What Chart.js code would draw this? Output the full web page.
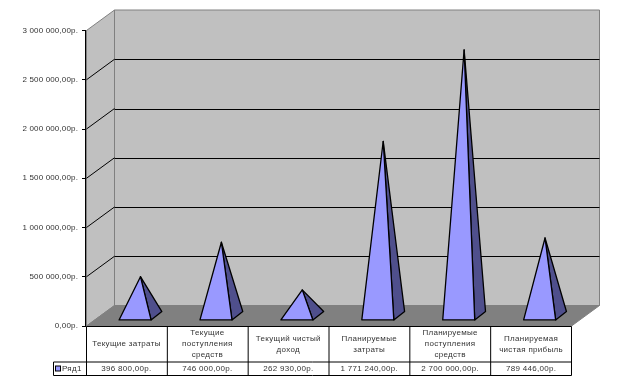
<!DOCTYPE html>
<html>
<head>
<meta charset="utf-8">
<script src="https://cdn.jsdelivr.net/npm/chart.js@4"></script>
<style>
    html, body { margin: 0; padding: 0; background: #fff; }
    canvas { display: block; }
</style>
</head>
<body>
<canvas id="chart" width="621" height="386"></canvas>
<script>
const categories = [
    ['Текущие затраты'],
    ['Текущие', 'поступления', 'средств'],
    ['Текущий чистый', 'доход'],
    ['Планируемые', 'затраты'],
    ['Планируемые', 'поступления', 'средств'],
    ['Планируемая', 'чистая прибыль'],
];
const seriesName = 'Ряд1';
const seriesValues = [396800, 746000, 262930, 1771240, 2700000, 789446];

const FONT = '8px "Liberation Sans", Arial, sans-serif';
const TEXT = '#333';
const DEPTH_X = 28;      // how far the back wall sits from the front plane
const DEPTH_Y = 20.5;
const ROW_1 = 35.5;      // table row heights
const ROW_2 = 13.5;
const LEGEND_W = 33;

// "3 000 000,00р."
function money(value) {
    if (value === 0) return '0,00р.';
    return String(value).replace(/\B(?=(\d{3})+$)/g, ' ') + ',00р.';
}

function line(ctx, x1, y1, x2, y2) {
    ctx.beginPath();
    ctx.moveTo(x1, y1);
    ctx.lineTo(x2, y2);
    ctx.stroke();
}

function poly(ctx, points, fill, stroke) {
    ctx.beginPath();
    points.forEach((p, i) => i ? ctx.lineTo(p[0], p[1]) : ctx.moveTo(p[0], p[1]));
    ctx.closePath();
    ctx.fillStyle = fill;
    ctx.fill();
    if (stroke) {
        ctx.strokeStyle = stroke;
        ctx.stroke();
    }
}

// Walls, floor and gridlines go under everything else
const walls = {
    id: 'walls',
    beforeDraw(chart) {
        chart.ctx.letterSpacing = '0.15px';  // tick labels run a little wider in the original
    },
    beforeDatasetsDraw(chart) {
        const ctx = chart.ctx;
        const y = chart.scales.y;
        const x0 = chart.chartArea.left + 0.5;
        const x1 = chart.chartArea.right;
        const top = y.getPixelForValue(y.max);
        const bottom = y.getPixelForValue(0);

        ctx.save();
        ctx.lineWidth = 1;
        poly(ctx, [[x0, top], [x0 + DEPTH_X, top - DEPTH_Y], [x0 + DEPTH_X, bottom - DEPTH_Y], [x0, bottom]], '#c0c0c0', '#808080');
        poly(ctx, [[x0 + DEPTH_X, top - DEPTH_Y], [x1 + DEPTH_X, top - DEPTH_Y], [x1 + DEPTH_X, bottom - DEPTH_Y], [x0 + DEPTH_X, bottom - DEPTH_Y]], '#c0c0c0', '#808080');
        poly(ctx, [[x0, bottom], [x0 + DEPTH_X, bottom - DEPTH_Y], [x1 + DEPTH_X, bottom - DEPTH_Y], [x1, bottom]], '#808080', '#808080');

        ctx.strokeStyle = '#000';
        y.ticks.forEach(t => {
            if (t.value === 0 || t.value === y.max) return;
            const py = y.getPixelForValue(t.value);
            line(ctx, x0, py, x0 + DEPTH_X, py - DEPTH_Y);
            const by = Math.round(py - DEPTH_Y) + 0.5;
            line(ctx, x0 + DEPTH_X, by, x1 + DEPTH_X, by);
        });
        ctx.restore();
    }
};

// The bars themselves are transparent, each one gets a pyramid at its spot
const pyramids = {
    id: 'pyramids',
    afterDatasetsDraw(chart) {
        const ctx = chart.ctx;
        const y = chart.scales.y;
        const meta = chart.getDatasetMeta(0);
        const bottom = y.getPixelForValue(0);

        ctx.save();
        ctx.lineWidth = 1.3;
        ctx.lineJoin = 'round';
        meta.data.forEach((bar, i) => {
            const cx = bar.x + DEPTH_X / 2;
            const cy = bottom - DEPTH_Y / 2;
            const apex = [cx, y.getPixelForValue(seriesValues[i]) - DEPTH_Y / 2];
            const frontLeft = [cx - 21.4, cy + 4.2];
            const frontRight = [cx + 10.6, cy + 4.2];
            const rearRight = [cx + 21.4, cy - 4.2];
            poly(ctx, [apex, frontRight, rearRight], '#4f4f8c', '#000');
            poly(ctx, [apex, frontLeft, frontRight], '#9999ff', '#000');
        });
        ctx.restore();
    }
};

// Data table under the chart, with the legend key in its first column
const dataTable = {
    id: 'dataTable',
    afterDraw(chart) {
        const ctx = chart.ctx;
        const x = chart.scales.x;
        const area = chart.chartArea;
        const top = Math.round(area.bottom) + 0.5;
        const mid = top + ROW_1;
        const end = mid + ROW_2;
        const left = area.left + 0.5;
        const right = area.right;
        const colW = (right - left) / categories.length;

        ctx.save();
        ctx.lineWidth = 1;
        ctx.strokeStyle = '#000';
        line(ctx, left, top, right, top);
        line(ctx, left - LEGEND_W, mid, right, mid);
        line(ctx, left - LEGEND_W, end, right, end);
        line(ctx, left - LEGEND_W, mid, left - LEGEND_W, end);
        for (let i = 0; i <= categories.length; i++) {
            const cx = left + colW * i;
            line(ctx, cx, top, cx, end);
        }

        ctx.font = FONT;
        ctx.fillStyle = TEXT;
        ctx.textAlign = 'center';
        ctx.textBaseline = 'middle';
        ctx.letterSpacing = '0.3px';
        categories.forEach((lines, i) => {
            const px = x.getPixelForValue(i);
            const startY = top + ROW_1 / 2 - (lines.length - 1) * 11 / 2;
            lines.forEach((text, n) => ctx.fillText(text, px, startY + n * 11));
            ctx.fillText(money(seriesValues[i]), px, mid + ROW_2 / 2);
        });

        ctx.textAlign = 'left';
        ctx.fillText(seriesName, left - LEGEND_W + 8.5, mid + ROW_2 / 2);
        ctx.fillStyle = '#9999ff';
        ctx.fillRect(left - LEGEND_W + 2, mid + 4, 5, 5);
        ctx.strokeRect(left - LEGEND_W + 2, mid + 4, 5, 5);
        ctx.restore();
    }
};

new Chart(document.getElementById('chart'), {
    type: 'bar',
    data: {
        labels: categories,
        datasets: [{
            label: seriesName,
            data: seriesValues,
            backgroundColor: 'transparent',
            borderWidth: 0,
        }]
    },
    plugins: [walls, pyramids, dataTable],
    options: {
        responsive: false,
        animation: false,
        layout: { padding: { top: 30.5, right: 49.5, left: 0, bottom: 0 } },
        plugins: {
            legend: { display: false },
            tooltip: { enabled: false },
        },
        scales: {
            x: {
                grid: { display: false },
                border: { display: false },
                ticks: { display: false },
                afterFit(scale) { scale.height = 60; },
            },
            y: {
                min: 0,
                max: 3000000,
                grid: { drawOnChartArea: false, color: '#000', tickLength: 4 },
                border: { color: '#000', width: 1.3 },
                ticks: {
                    stepSize: 500000,
                    padding: 4,
                    color: TEXT,
                    font: { family: '"Liberation Sans", Arial, sans-serif', size: 8 },
                    callback: value => money(value),
                },
                afterFit(scale) { scale.width = 86; },
            }
        }
    }
});
</script>
</body>
</html>
